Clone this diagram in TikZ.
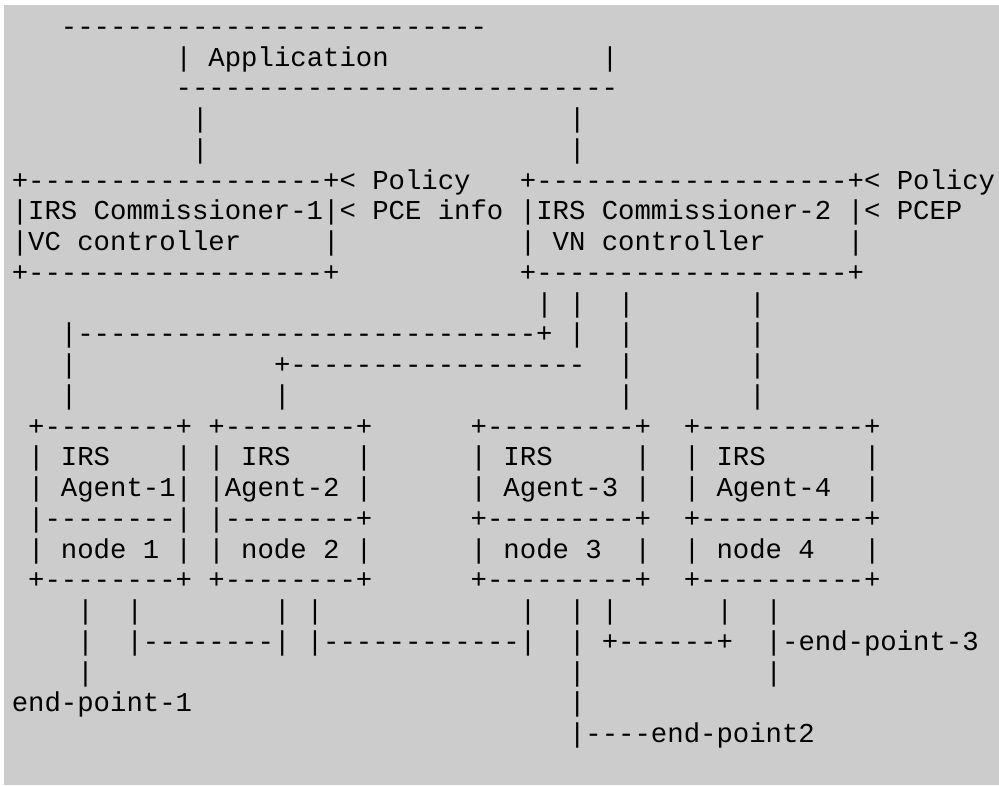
\documentclass[tikz,border=0pt]{standalone}
\usepackage{fontspec}
\setmonofont{Liberation Mono}
\ExplSyntaxOn
\cs_new:Npn \dashrun #1 { \prg_replicate:nn {#1} {-} }
\ExplSyntaxOff
\definecolor{bggrey}{RGB}{204,204,204}
\tikzset{asc/.style={anchor=base west, inner sep=0pt, outer sep=0pt,
  font=\ttfamily\fontsize{27.31pt}{30pt}\selectfont, text=black}}
% row, column, text
\newcommand\asctext[3]{\node[asc] (t#1-#2) at ({11.8+16.39*#2},{35.3+30.75*(#1-1)}) {#3};}
\begin{document}
\begin{tikzpicture}[x=1pt,y=-1pt]
\useasboundingbox (0,0) rectangle (999,785);
\fill[bggrey] (4,5) rectangle (999,785);
% Application box
\asctext{1}{3}{\dashrun{26}}
\asctext{2}{10}{| Application}
\asctext{2}{36}{|}
\asctext{3}{10}{\dashrun{27}}
\asctext{4}{11}{|}\asctext{4}{34}{|}
\asctext{5}{11}{|}\asctext{5}{34}{|}
% Commissioners
\asctext{6}{0}{+\dashrun{18}+< Policy}
\asctext{6}{31}{+\dashrun{19}+< Policy}
\asctext{7}{0}{|IRS Commissioner-1|< PCE info}
\asctext{7}{31}{|IRS Commissioner-2 |< PCEP}
\asctext{8}{0}{|VC controller}
\asctext{8}{19}{|}
\asctext{8}{31}{| VN controller}
\asctext{8}{51}{|}
\asctext{9}{0}{+\dashrun{18}+}
\asctext{9}{31}{+\dashrun{19}+}
% links down
\asctext{10}{32}{| |}\asctext{10}{37}{|}\asctext{10}{45}{|}
\asctext{11}{3}{|\dashrun{28}+ |}\asctext{11}{37}{|}\asctext{11}{45}{|}
\asctext{12}{3}{|}\asctext{12}{16}{+\dashrun{18}}\asctext{12}{37}{|}\asctext{12}{45}{|}
\asctext{13}{3}{|}\asctext{13}{16}{|}\asctext{13}{37}{|}\asctext{13}{45}{|}
% Agents
\asctext{14}{1}{+\dashrun{8}+ +\dashrun{8}+}
\asctext{14}{28}{+\dashrun{9}+}
\asctext{14}{41}{+\dashrun{10}+}
\asctext{15}{1}{| IRS}\asctext{15}{10}{| | IRS}\asctext{15}{21}{|}
\asctext{15}{28}{| IRS}\asctext{15}{38}{|}
\asctext{15}{41}{| IRS}\asctext{15}{52}{|}
\asctext{16}{1}{| Agent-1| |Agent-2 |}
\asctext{16}{28}{| Agent-3 |}
\asctext{16}{41}{| Agent-4}\asctext{16}{52}{|}
\asctext{17}{1}{|\dashrun{8}| |\dashrun{8}+}
\asctext{17}{28}{+\dashrun{9}+}
\asctext{17}{41}{+\dashrun{10}+}
\asctext{18}{1}{| node 1 | | node 2 |}
\asctext{18}{28}{| node 3}\asctext{18}{38}{|}
\asctext{18}{41}{| node 4}\asctext{18}{52}{|}
\asctext{19}{1}{+\dashrun{8}+ +\dashrun{8}+}
\asctext{19}{28}{+\dashrun{9}+}
\asctext{19}{41}{+\dashrun{10}+}
% end points
\asctext{20}{4}{|}\asctext{20}{7}{|}\asctext{20}{16}{| |}\asctext{20}{31}{|}
\asctext{20}{34}{| |}\asctext{20}{43}{|}\asctext{20}{46}{|}
\asctext{21}{4}{|}\asctext{21}{7}{|\dashrun{8}| |\dashrun{12}|}
\asctext{21}{34}{| +\dashrun{6}+}
\asctext{21}{46}{|-end-point-3}
\asctext{22}{4}{|}\asctext{22}{34}{|}\asctext{22}{46}{|}
\asctext{23}{0}{end-point-1}\asctext{23}{34}{|}
\asctext{24}{34}{|----end-point2}
\end{tikzpicture}
\end{document}
